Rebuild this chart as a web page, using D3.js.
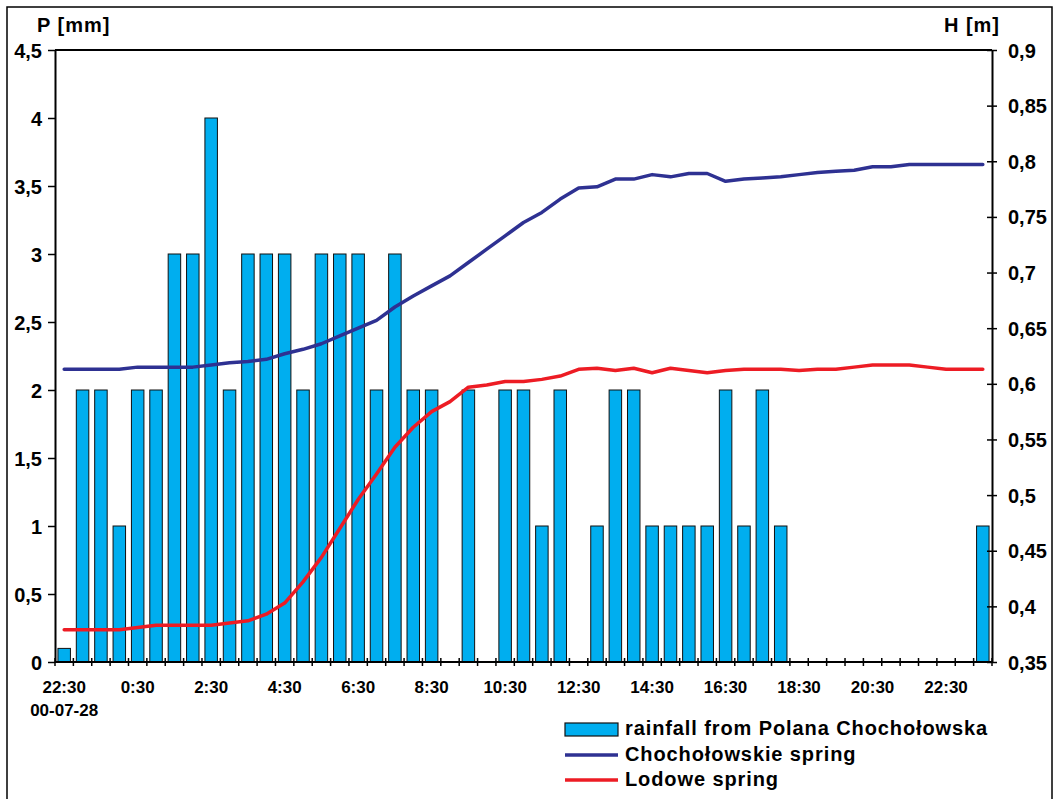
<!DOCTYPE html>
<html>
<head>
<meta charset="utf-8">
<script src="https://cdn.jsdelivr.net/npm/d3@7"></script>
<style>
  html, body { margin: 0; padding: 0; background: #fff; }
  svg { display: block; }
  text { font-family: "Liberation Sans", Arial, sans-serif; font-weight: bold; fill: #000; }
</style>
</head>
<body>
<svg id="chart" width="1055" height="799"></svg>
<script>
// Half-hourly time slots, 00-07-28 22:30 through the next day 23:30
const times = [
  "22:30","23:00","23:30","0:00","0:30","1:00","1:30","2:00","2:30","3:00",
  "3:30","4:00","4:30","5:00","5:30","6:00","6:30","7:00","7:30","8:00",
  "8:30","9:00","9:30","10:00","10:30","11:00","11:30","12:00","12:30","13:00",
  "13:30","14:00","14:30","15:00","15:30","16:00","16:30","17:00","17:30","18:00",
  "18:30","19:00","19:30","20:00","20:30","21:00","21:30","22:00","22:30","23:00",
  "23:30"
];
const startDate = "00-07-28";

// Rainfall P [mm] at Polana Chochołowska
const rainfall = [
  0.1, 2, 2, 1, 2, 2, 3, 3, 4, 2,
  3, 3, 3, 2, 3, 3, 3, 2, 3, 2,
  2, 0, 2, 0, 2, 2, 1, 2, 0, 1,
  2, 2, 1, 1, 1, 1, 2, 1, 2, 1,
  0, 0, 0, 0, 0, 0, 0, 0, 0, 0,
  1
];

// Water stage H [m], Chochołowskie spring
const chocholowskie = [
  0.613, 0.613, 0.613, 0.613, 0.615, 0.615, 0.615, 0.615, 0.617, 0.619,
  0.620, 0.622, 0.627, 0.631, 0.636, 0.643, 0.650, 0.657, 0.669, 0.679,
  0.688, 0.697, 0.709, 0.721, 0.733, 0.745, 0.754, 0.766, 0.776, 0.777,
  0.784, 0.784, 0.788, 0.786, 0.789, 0.789, 0.782, 0.784, 0.785, 0.786,
  0.788, 0.790, 0.791, 0.792, 0.795, 0.795, 0.797, 0.797, 0.797, 0.797,
  0.797
];

// Water stage H [m], Lodowe spring
const lodowe = [
  0.379, 0.379, 0.379, 0.379, 0.381, 0.383, 0.383, 0.383, 0.383, 0.385,
  0.387, 0.393, 0.403, 0.422, 0.444, 0.470, 0.496, 0.519, 0.543, 0.561,
  0.575, 0.584, 0.597, 0.599, 0.602, 0.602, 0.604, 0.607, 0.613, 0.614,
  0.612, 0.614, 0.610, 0.614, 0.612, 0.610, 0.612, 0.613, 0.613, 0.613,
  0.612, 0.613, 0.613, 0.615, 0.617, 0.617, 0.617, 0.615, 0.613, 0.613,
  0.613
];

// Axis ticks
const pTicks = [0, 0.5, 1, 1.5, 2, 2.5, 3, 3.5, 4, 4.5];
const hTicks = [0.35, 0.4, 0.45, 0.5, 0.55, 0.6, 0.65, 0.7, 0.75, 0.8, 0.85, 0.9];
const labelEvery = 4;

const legendItems = [
  { kind: "bar",  label: "rainfall from Polana Chochołowska" },
  { kind: "line", label: "Chochołowskie spring", color: "#2e3192" },
  { kind: "line", label: "Lodowe spring", color: "#ed1c24" }
];

const barColor = "#00aeef";
const blueColor = "#2e3192";
const redColor = "#ed1c24";

const svg = d3.select("#chart");
const plot = { left: 55, right: 992, top: 50, bottom: 662 };

// Decimal comma formatting
const locale = d3.formatLocale({ decimal: ",", thousands: " ", grouping: [3], currency: ["", ""] });
const fmt = locale.format(".2~f");

// Outer frame
svg.append("rect")
  .attr("x", 7).attr("y", 7)
  .attr("width", 1045).attr("height", 820)
  .attr("fill", "none").attr("stroke", "#000").attr("stroke-width", 1.5);

const idx = d3.range(times.length);
const x = d3.scaleBand().domain(idx).range([plot.left, plot.right])
  .paddingInner(0.32).paddingOuter(0.16);
const step = x.step();
const cx = i => x(i) + x.bandwidth() / 2;

const yP = d3.scaleLinear().domain([0, 4.5]).range([plot.bottom, plot.top]);
const yH = d3.scaleLinear().domain([0.35, 0.9]).range([plot.bottom, plot.top]);

// Bars
svg.append("g").selectAll("rect")
  .data(rainfall.map((v, i) => ({ v, i })).filter(d => d.v > 0))
  .join("rect")
  .attr("x", d => x(d.i))
  .attr("y", d => yP(d.v))
  .attr("width", x.bandwidth())
  .attr("height", d => yP(0) - yP(d.v))
  .attr("fill", barColor)
  .attr("stroke", "#111")
  .attr("stroke-width", 1);

// Lines
const line = scale => d3.line().x((d, i) => cx(i)).y(d => scale(d));
svg.append("path").datum(chocholowskie)
  .attr("d", line(yH))
  .attr("fill", "none").attr("stroke", blueColor)
  .attr("stroke-width", 3.5).attr("stroke-linejoin", "round").attr("stroke-linecap", "round");
svg.append("path").datum(lodowe)
  .attr("d", line(yH))
  .attr("fill", "none").attr("stroke", redColor)
  .attr("stroke-width", 3.5).attr("stroke-linejoin", "round").attr("stroke-linecap", "round");

// Left axis (P)
const leftAxis = svg.append("g").attr("transform", `translate(${plot.left},0)`)
  .call(d3.axisLeft(yP).tickValues(pTicks).tickFormat(fmt).tickSize(7).tickSizeOuter(0).tickPadding(6));
leftAxis.select(".domain").attr("stroke-width", 2);
leftAxis.selectAll(".tick line").attr("stroke-width", 1.5);
leftAxis.selectAll(".tick text").attr("font-size", 20).attr("font-family", null).attr("dy", "0.35em");

// Right axis (H), ticks crossing the axis line
const rightAxis = svg.append("g").attr("transform", `translate(${plot.right},0)`)
  .call(d3.axisRight(yH).tickValues(hTicks).tickFormat(fmt).tickSize(5).tickSizeOuter(0).tickPadding(11));
rightAxis.select(".domain").attr("stroke-width", 2);
rightAxis.selectAll(".tick line").attr("x1", -5).attr("stroke-width", 1.5);
rightAxis.selectAll(".tick text").attr("font-size", 20).attr("font-family", null).attr("dy", "0.35em");

// Top border of plot area
svg.append("line")
  .attr("x1", plot.left).attr("x2", plot.right)
  .attr("y1", plot.top).attr("y2", plot.top)
  .attr("stroke", "#000").attr("stroke-width", 2);

// Bottom category axis
svg.append("line")
  .attr("x1", plot.left).attr("x2", plot.right)
  .attr("y1", plot.bottom).attr("y2", plot.bottom)
  .attr("stroke", "#000").attr("stroke-width", 2);
const boundaries = d3.range(times.length + 1).map(k => plot.left + k * step);
svg.append("g").selectAll("line").data(boundaries).join("line")
  .attr("x1", d => d).attr("x2", d => d)
  .attr("y1", plot.bottom - 4).attr("y2", plot.bottom + 4)
  .attr("stroke", "#000").attr("stroke-width", 1.5);

svg.append("g").selectAll("text")
  .data(idx.filter(i => i % labelEvery === 0))
  .join("text")
  .attr("x", i => cx(i))
  .attr("y", 693)
  .attr("text-anchor", "middle")
  .attr("font-size", 17)
  .text(i => times[i]);

svg.append("text")
  .attr("x", cx(0)).attr("y", 716)
  .attr("text-anchor", "middle").attr("font-size", 17)
  .text(startDate);

// Axis titles
svg.append("text").attr("x", 37).attr("y", 32)
  .attr("font-size", 20).attr("letter-spacing", 1).text("P [mm]");
svg.append("text").attr("x", 1000).attr("y", 32)
  .attr("text-anchor", "end")
  .attr("font-size", 20).attr("letter-spacing", 1).text("H [m]");

// Legend
const legend = svg.append("g").attr("transform", "translate(565,0)");
const rowBase = [735, 761, 786];
legendItems.forEach((d, k) => {
  const b = rowBase[k];
  if (d.kind === "bar") {
    legend.append("rect").attr("x", 0).attr("y", b - 12).attr("width", 53).attr("height", 13)
      .attr("fill", barColor).attr("stroke", "#111").attr("stroke-width", 1.2);
  } else {
    legend.append("line").attr("x1", 0).attr("x2", 53).attr("y1", b - 6).attr("y2", b - 6)
      .attr("stroke", d.color).attr("stroke-width", 3.5);
  }
  legend.append("text").attr("x", 60).attr("y", b)
    .attr("font-size", 20).attr("letter-spacing", 0.9).text(d.label);
});
</script>
</body>
</html>
